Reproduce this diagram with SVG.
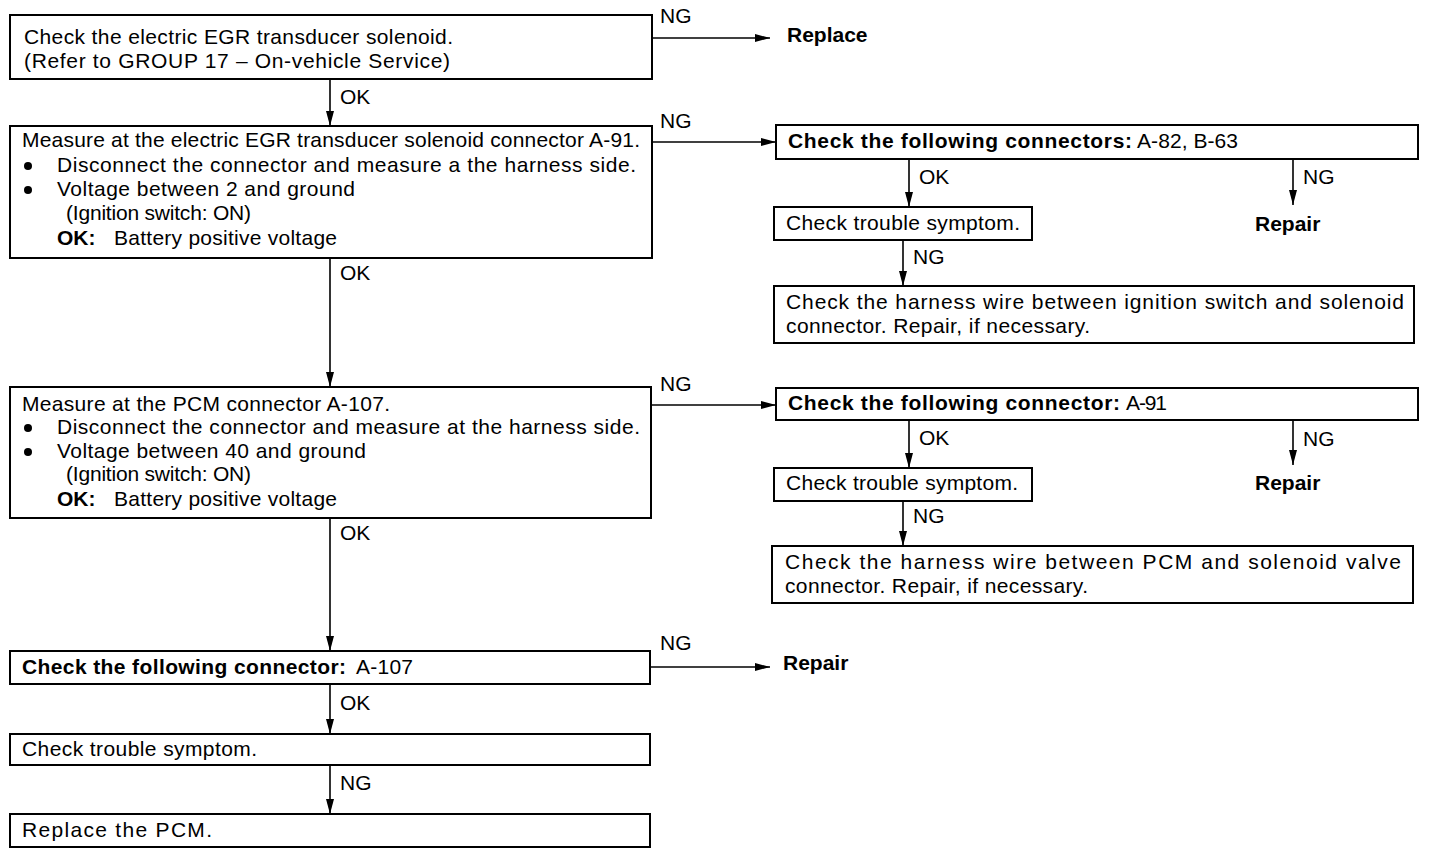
<svg xmlns="http://www.w3.org/2000/svg" width="1440" height="868" viewBox="0 0 1440 868">
<defs>
<marker id="ah" viewBox="0 0 15 8" refX="15" refY="4" markerWidth="15" markerHeight="8" markerUnits="userSpaceOnUse" orient="auto">
<path d="M0,0 L15,4 L0,8 Z" fill="#000"/>
</marker>
</defs>
<style>
.box{fill:#fff;stroke:#000;stroke-width:2}
.t{font-family:"Liberation Sans",Arial,sans-serif;font-size:21px;fill:#000}
.b{font-weight:bold}
.c{fill:none;stroke:#000;stroke-width:1.6}
</style>
<rect width="1440" height="868" fill="#fff"/>
<g id="connectors">
<line class="c" x1="330" y1="80" x2="330" y2="126" marker-end="url(#ah)"/>
<line class="c" x1="330" y1="259" x2="330" y2="387" marker-end="url(#ah)"/>
<line class="c" x1="330" y1="519" x2="330" y2="651" marker-end="url(#ah)"/>
<line class="c" x1="330" y1="685" x2="330" y2="734" marker-end="url(#ah)"/>
<line class="c" x1="330" y1="766" x2="330" y2="814" marker-end="url(#ah)"/>
<line class="c" x1="653" y1="38" x2="770" y2="38" marker-end="url(#ah)"/>
<line class="c" x1="653" y1="142" x2="776" y2="142" marker-end="url(#ah)"/>
<line class="c" x1="652" y1="405" x2="776" y2="405" marker-end="url(#ah)"/>
<line class="c" x1="651" y1="667" x2="770" y2="667" marker-end="url(#ah)"/>
<line class="c" x1="909" y1="160" x2="909" y2="207" marker-end="url(#ah)"/>
<line class="c" x1="1293" y1="160" x2="1293" y2="205" marker-end="url(#ah)"/>
<line class="c" x1="903" y1="241" x2="903" y2="286" marker-end="url(#ah)"/>
<line class="c" x1="909" y1="421" x2="909" y2="468" marker-end="url(#ah)"/>
<line class="c" x1="1293" y1="421" x2="1293" y2="465" marker-end="url(#ah)"/>
<line class="c" x1="903" y1="502" x2="903" y2="546" marker-end="url(#ah)"/>
<text class="t" x="340" y="104">OK</text>
<text class="t" x="340" y="280">OK</text>
<text class="t" x="340" y="540">OK</text>
<text class="t" x="340" y="710">OK</text>
<text class="t" x="340" y="790">NG</text>
<text class="t" x="660" y="23">NG</text>
<text class="t" x="660" y="128">NG</text>
<text class="t" x="660" y="391">NG</text>
<text class="t" x="660" y="650">NG</text>
<text class="t" x="919" y="184">OK</text>
<text class="t" x="1303" y="184">NG</text>
<text class="t" x="913" y="264">NG</text>
<text class="t" x="919" y="445">OK</text>
<text class="t" x="1303" y="446">NG</text>
<text class="t" x="913" y="523">NG</text>
</g>
<g id="n1">
<rect class="box" x="10" y="15" width="642" height="64"/>
<text class="t" x="24" y="44" textLength="429" lengthAdjust="spacing">Check the electric EGR transducer solenoid.</text>
<text class="t" x="24" y="68" textLength="426" lengthAdjust="spacing">(Refer to GROUP 17 – On-vehicle Service)</text>
</g>
<g id="replace1">
<text class="t b" x="787" y="42">Replace</text>
</g>
<g id="n2">
<rect class="box" x="10" y="126" width="642" height="132"/>
<text class="t" x="22" y="147" textLength="618" lengthAdjust="spacing">Measure at the electric EGR transducer solenoid connector A-91.</text>
<circle cx="28" cy="166" r="4"/>
<text class="t" x="57" y="172" textLength="579" lengthAdjust="spacing">Disconnect the connector and measure a the harness side.</text>
<circle cx="28" cy="190" r="4"/>
<text class="t" x="57" y="196" textLength="298" lengthAdjust="spacing">Voltage between 2 and ground</text>
<text class="t" x="66" y="220" textLength="185" lengthAdjust="spacing">(Ignition switch: ON)</text>
<text class="t b" x="57" y="245">OK:</text>
<text class="t" x="114" y="245" textLength="223" lengthAdjust="spacing">Battery positive voltage</text>
</g>
<g id="r1">
<rect class="box" x="776" y="125" width="642" height="34"/>
<text class="t b" x="788" y="148" textLength="344" lengthAdjust="spacing">Check the following connectors:</text>
<text class="t" x="1137" y="148" textLength="101" lengthAdjust="spacing">A-82, B-63</text>
</g>
<g id="r2">
<rect class="box" x="774" y="207" width="258" height="33"/>
<text class="t" x="786" y="230" textLength="234" lengthAdjust="spacing">Check trouble symptom.</text>
</g>
<g id="repair1">
<text class="t b" x="1255" y="231">Repair</text>
</g>
<g id="r3">
<rect class="box" x="774" y="286" width="640" height="57"/>
<text class="t" x="786" y="309" textLength="618" lengthAdjust="spacing">Check the harness wire between ignition switch and solenoid</text>
<text class="t" x="786" y="333" textLength="304" lengthAdjust="spacing">connector. Repair, if necessary.</text>
</g>
<g id="n3">
<rect class="box" x="10" y="387" width="641" height="131"/>
<text class="t" x="22" y="411" textLength="368" lengthAdjust="spacing">Measure at the PCM connector A-107.</text>
<circle cx="28" cy="428" r="4"/>
<text class="t" x="57" y="434" textLength="583" lengthAdjust="spacing">Disconnect the connector and measure at the harness side.</text>
<circle cx="28" cy="452" r="4"/>
<text class="t" x="57" y="458" textLength="309" lengthAdjust="spacing">Voltage between 40 and ground</text>
<text class="t" x="66" y="481" textLength="185" lengthAdjust="spacing">(Ignition switch: ON)</text>
<text class="t b" x="57" y="506">OK:</text>
<text class="t" x="114" y="506" textLength="223" lengthAdjust="spacing">Battery positive voltage</text>
</g>
<g id="r4">
<rect class="box" x="776" y="388" width="642" height="32"/>
<text class="t b" x="788" y="410" textLength="332" lengthAdjust="spacing">Check the following connector:</text>
<text class="t" x="1126" y="410" textLength="41" lengthAdjust="spacing">A-91</text>
</g>
<g id="r5">
<rect class="box" x="774" y="468" width="258" height="33"/>
<text class="t" x="786" y="490" textLength="232" lengthAdjust="spacing">Check trouble symptom.</text>
</g>
<g id="repair2">
<text class="t b" x="1255" y="490">Repair</text>
</g>
<g id="r6">
<rect class="box" x="772" y="546" width="641" height="57"/>
<text class="t" x="785" y="569" textLength="616" lengthAdjust="spacing">Check the harness wire between PCM and solenoid valve</text>
<text class="t" x="785" y="593" textLength="303" lengthAdjust="spacing">connector. Repair, if necessary.</text>
</g>
<g id="n4">
<rect class="box" x="10" y="651" width="640" height="33"/>
<text class="t b" x="22" y="674" textLength="324" lengthAdjust="spacing">Check the following connector:</text>
<text class="t" x="356" y="674" textLength="57" lengthAdjust="spacing">A-107</text>
</g>
<g id="repair3">
<text class="t b" x="783" y="670">Repair</text>
</g>
<g id="n5">
<rect class="box" x="10" y="734" width="640" height="31"/>
<text class="t" x="22" y="756" textLength="235" lengthAdjust="spacing">Check trouble symptom.</text>
</g>
<g id="n6">
<rect class="box" x="10" y="814" width="640" height="33"/>
<text class="t" x="22" y="837" textLength="190" lengthAdjust="spacing">Replace the PCM.</text>
</g>
</svg>
